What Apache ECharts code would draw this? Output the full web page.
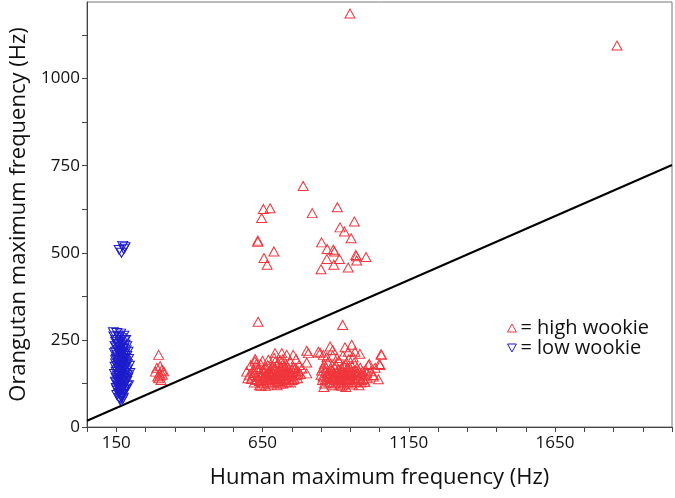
<!DOCTYPE html>
<html>
<head>
<meta charset="utf-8">
<script src="https://cdn.jsdelivr.net/npm/echarts@6/dist/echarts.min.js"></script>
<style>html,body{margin:0;padding:0;background:#fff}#c{width:675px;height:498px}</style>
</head>
<body>
<div id="c"></div>
<script>
// ---- data ----
var xLabelValues = [150, 650, 1150, 1650];
var xTickValues = [50,150,250,350,450,550,650,750,850,950,1050,1150,1250,1350,1450,1550,1650,1750,1850,1950,2050];
var yLabelValues = [0, 250, 500, 750, 1000];
var yTickValues = [0,125,250,375,500,625,750,875,1000,1125];

var highWookie = [
  // outliers
  [949,1187],[1862,1095],
  // upper cluster
  [789,692],[653,626],[676,628],[647,600],[820,614],[906,631],[964,590],[915,573],[930,561],[953,542],
  [634,535],[634,532],[689,504],[655,485],[666,466],[852,530],[871,511],[892,509],[896,504],[969,494],
  [971,490],[1004,488],[870,482],[913,482],[894,466],[972,478],[850,453],[943,458],
  // isolated
  [635,302],[924,293],
  // cluster near 300
  [295,207],[289,170],[306,164],[298,154],[284,159],[312,160],[295,140],[303,135],[300,148],[292,145],[308,150],[300,175],
  // lower left cluster
  [693,212],[716,212],[733,207],[755,207],[801,219],[807,212],[841,216],[858,207],[670,193],[693,188],
  [721,183],[733,178],[801,185],[596,159],[624,188],[801,154],[738,154],[744,145],[727,135],
  [605,150],[612,138],[618,165],[622,128],[628,172],[632,145],[636,158],[640,132],[644,180],[646,150],
  [650,140],[652,163],[655,125],[658,170],[660,148],[662,155],[665,135],[668,178],[670,142],[672,160],
  [675,128],[678,168],[680,150],[683,138],[685,175],[688,156],[690,145],[692,130],[695,165],[698,150],
  [700,140],[703,185],[705,158],[708,132],[710,170],[713,148],[716,138],[718,162],[720,125],[724,175],
  [727,150],[730,140],[733,160],[736,130],[740,168],[744,146],[748,155],[752,135],[756,172],[760,148],
  [765,160],[770,140],[775,178],[780,152],[610,178],[625,195],[640,120],[660,118],[680,122],[700,120],
  [720,195],[745,188],[765,195],[785,168],
  [615,145],[620,155],[630,135],[635,168],[642,148],[648,128],[654,158],[657,142],[663,170],[667,150],
  [674,135],[677,158],[682,145],[686,128],[689,168],[694,140],[697,158],[702,132],[706,148],[709,160],
  [712,125],[715,172],[719,150],[722,140],[726,165],[729,130],[734,148],[738,138],[742,158],[746,128],
  [750,165],[754,145],[758,138],[762,170],[768,150],[772,160],[630,182],[650,190],[690,198],[710,192],
  [600,140],[645,118],
  // lower right cluster
  [881,231],[890,221],[932,229],[955,236],[943,216],[966,216],[983,210],[1055,209],[1015,181],[1049,181],
  [1006,154],[1029,149],[1046,137],[1000,130],[847,213],[1052,178],[1012,178],[1029,145],[1057,207],
  [850,150],[855,135],[858,170],[862,125],[866,160],[870,145],[873,185],[876,130],[880,155],[883,170],
  [886,140],[888,120],[891,162],[894,150],[897,135],[900,178],[902,145],[905,160],[908,128],[911,190],
  [914,152],[917,140],[920,170],[922,118],[925,158],[928,145],[931,135],[934,180],[936,152],[939,165],
  [942,128],[945,148],[948,172],[951,138],[954,158],[957,122],[960,150],[963,185],[966,140],[969,162],
  [972,130],[976,155],[980,145],[984,170],[988,135],[992,160],[996,148],[1000,130],[905,198],[925,205],
  [945,195],[960,200],[870,200],[890,205],[915,120],[935,115],[860,115],[980,120],
  [852,162],[857,145],[861,180],[865,138],[868,170],[872,155],[877,142],[882,128],[885,165],[889,150],
  [893,140],[896,172],[899,125],[903,155],[907,138],[910,165],[913,145],[918,130],[921,160],[924,150],
  [927,175],[930,125],[933,155],[937,140],[940,170],[944,135],[947,160],[950,150],[953,128],[956,175],
  [959,140],[962,160],[965,130],[968,150],[973,170],[977,140],[982,158],[986,128],[990,150],[995,138],
  [1002,165],[1008,140],[1020,160],[1035,170]
];

var lowWookie = [
  [160,508],[172,520],[180,516],[176,510],[168,500],
  [140,272],[152,270],[165,268],[176,262],[160,258],[182,250],[148,245],[170,240],[158,236],[186,232],
  [150,228],[174,224],[162,220],[190,216],[144,212],[168,208],[180,205],[155,202],[172,198],[192,195],
  [148,192],[163,188],[184,185],[157,182],[170,178],[195,176],[146,173],[178,170],[160,168],[188,165],
  [152,162],[172,160],[165,157],[196,155],[144,152],[182,150],[158,148],[170,145],[190,142],[150,140],
  [176,138],[162,135],[186,132],[147,130],[168,128],[180,125],[155,122],[192,120],[160,118],[174,115],
  [150,112],[184,110],[166,107],[156,104],[178,101],[162,98],[170,95],[152,92],[166,88],[160,84],
  [172,80],[164,76],
  [142,260],[156,262],[168,255],[150,250],[178,246],[164,244],[154,238],[180,236],[146,232],[166,230],
  [176,226],[156,222],[184,220],[148,216],[172,214],[160,212],[178,210],[152,206],[186,204],[164,200],
  [176,196],[150,196],[168,192],[182,190],[158,188],[174,185],[148,182],[188,180],[166,176],[152,176],
  [180,172],[170,170],[158,165],[184,160],[150,158],[176,155],[164,152],[188,150],[154,146],[178,144],
  [166,140],[156,136],[184,138],[172,132],[160,130],[150,126],[176,122],[166,120],[186,118],[158,114],
  [170,110],[152,108],[176,106],[164,102],[172,92],[158,96],[168,86],[174,84],[162,80]
];

var diagonal = [[50,18],[2050,752]];

// ---- chart ----
var font = 'Open Sans';
var chart = echarts.init(document.getElementById('c'));
chart.setOption({
  animation: false,
  backgroundColor: '#fff',
  grid: { left: 87, right: 3, top: 2, bottom: 71, show: true, borderColor: '#777', borderWidth: 1 },
  legend: {
    orient: 'vertical', left: 502, top: 313, itemGap: 0, itemWidth: 9, itemHeight: 8,
    textStyle: { fontFamily: font, fontSize: 20, color: '#111', padding: [0, 0, 0, -1] },
    itemStyle: { borderWidth: 1 },
    formatter: function (n) { return '= ' + n; },
    data: [
      { name: 'high wookie', icon: 'path://M5,0 L10,9 L0,9 Z' },
      { name: 'low wookie', icon: 'path://M0,0 L10,0 L5,9 Z' }
    ]
  },
  xAxis: {
    type: 'value', min: 50, max: 2050,
    name: 'Human maximum frequency (Hz)', nameLocation: 'middle', nameGap: 40,
    nameTextStyle: { fontFamily: font, fontSize: 22, color: '#111' },
    axisLine: { lineStyle: { color: '#444' } },
    axisTick: { show: true, customValues: xTickValues, length: 5, lineStyle: { color: '#444' } },
    axisLabel: { customValues: xLabelValues, fontFamily: font, fontSize: 17, color: '#111', margin: 8,
      formatter: function (v) { return String(v); } },
    splitLine: { show: false }
  },
  yAxis: {
    type: 'value', min: 0, max: 1220,
    name: 'Orangutan maximum frequency (Hz)', nameLocation: 'middle', nameGap: 55,
    nameTextStyle: { fontFamily: font, fontSize: 22, color: '#111' },
    axisLine: { show: true, lineStyle: { color: '#444' } },
    axisTick: { show: true, customValues: yTickValues, length: 5, lineStyle: { color: '#444' } },
    axisLabel: { customValues: yLabelValues, fontFamily: font, fontSize: 17, color: '#111', margin: 7,
      formatter: function (v) { return String(v); } },
    splitLine: { show: false }
  },
  series: [
    {
      name: 'diag', type: 'line', data: diagonal, symbol: 'none', silent: true,
      lineStyle: { color: '#000', width: 2 }, z: 1
    },
    {
      name: 'high wookie', type: 'scatter', data: highWookie,
      symbol: 'path://M5,0 L10,9 L0,9 Z', symbolSize: [10, 9],
      itemStyle: { color: 'rgba(255,255,255,0)', borderColor: '#f0363c', borderWidth: 1, opacity: 1 },
      z: 3
    },
    {
      name: 'low wookie', type: 'scatter', data: lowWookie,
      symbol: 'path://M0,0 L10,0 L5,9 Z', symbolSize: [10, 9],
      itemStyle: { color: 'rgba(255,255,255,0)', borderColor: '#1c1ccc', borderWidth: 1, opacity: 1 },
      z: 3
    }
  ]
});
</script>
</body>
</html>
